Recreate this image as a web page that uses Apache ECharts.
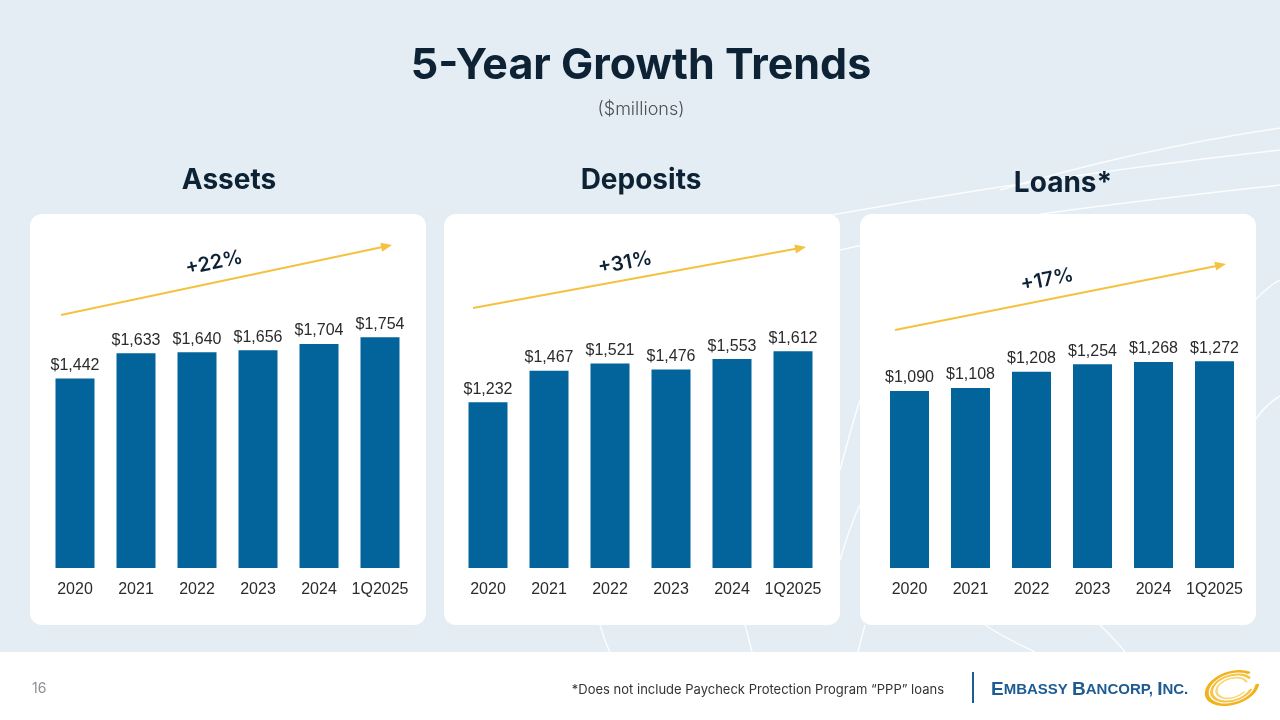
<!DOCTYPE html>
<html>
<head>
<meta charset="utf-8">
<title>5-Year Growth Trends</title>
<script src="https://cdn.jsdelivr.net/npm/echarts@6/dist/echarts.min.js"></script>
<style>
  html, body { margin: 0; padding: 0; background: #e4edf3; }
  #chart { width: 1280px; height: 720px; }
</style>
</head>
<body>
<div id="chart"></div>
<script>
// data ($millions)
var categories = ['2020', '2021', '2022', '2023', '2024', '1Q2025'];
var assets = [1442, 1633, 1640, 1656, 1704, 1754];
var deposits = [1232, 1467, 1521, 1476, 1553, 1612];
var loans = [1090, 1108, 1208, 1254, 1268, 1272];
var panelTitles = ['Assets', 'Deposits', 'Loans*'];
var growthLabels = ['+22%', '+31%', '+17%'];

var navy = '#0d2235';
var barColor = '#03639b';
var gold = '#f5c141';

// layout for the three panels
var panels = [
  { data: assets,   left: 44.5, top: 305, max: 2000, card: [30, 214],  titleX: 229,  titleY: 181,
    arrow: [[61, 315], [392, 245]], pct: [214, 263] },
  { data: deposits, left: 457.5, top: 299, max: 2000, card: [444, 214], titleX: 641,  titleY: 181,
    arrow: [[473, 308], [806, 247]], pct: [625, 263] },
  { data: loans,    left: 879, top: 308, max: 1600, card: [860, 214],  titleX: 1063, titleY: 184,
    arrow: [[895, 330], [1226, 264]], pct: [1047, 280] }
];

function money(v) {
  return '$' + v.toLocaleString('en-US');
}

var grids = [], xAxes = [], yAxes = [], series = [], graphics = [];

// background decoration
var curves = [
  [[700, 240], [900, 200], [1100, 170], [1280, 150]],
  [[840, 250], [1000, 215], [1150, 200], [1280, 185]],
  [[1000, 190], [1100, 160], [1200, 140], [1280, 128]],
  [[1255, 300], [1265, 290], [1272, 284], [1280, 280]],
  [[1255, 420], [1262, 410], [1270, 402], [1280, 396]],
  [[600, 625], [603, 635], [606, 645], [610, 652]],
  [[745, 625], [748, 635], [750, 645], [752, 652]],
  [[865, 625], [862, 635], [860, 645], [858, 652]],
  [[985, 625], [1000, 635], [1020, 645], [1035, 652]],
  [[1100, 625], [1110, 635], [1120, 645], [1125, 652]],
  [[840, 470], [848, 440], [855, 415], [860, 400]],
  [[840, 560], [846, 540], [852, 520], [860, 505]]
];
curves.forEach(function (c) {
  graphics.push({
    type: 'bezierCurve', z: -3,
    shape: { x1: c[0][0], y1: c[0][1], cpx1: c[1][0], cpy1: c[1][1], cpx2: c[2][0], cpy2: c[2][1], x2: c[3][0], y2: c[3][1] },
    style: { stroke: 'rgba(255,255,255,0.85)', lineWidth: 1.5, fill: null }
  });
});

// footer strip
graphics.push({ type: 'rect', z: -2, shape: { x: 0, y: 652, width: 1280, height: 68 }, style: { fill: '#ffffff' } });

// headline
graphics.push({
  type: 'text', z: 5, x: 641, y: 66,
  style: { text: '5-Year Growth Trends', font: '700 43px Inter', fill: navy, align: 'center', verticalAlign: 'middle' }
});
graphics.push({
  type: 'text', z: 5, x: 641, y: 110,
  style: { text: '($millions)', font: '300 18px Inter', fill: '#4a4f55', align: 'center', verticalAlign: 'middle' }
});

panels.forEach(function (p, i) {
  grids.push({ left: p.left, top: p.top, width: 366, bottom: 152 });
  xAxes.push({
    type: 'category', gridIndex: i, data: categories, z: 10,
    axisLine: { show: false }, axisTick: { show: false },
    axisLabel: { interval: 0, color: '#2b2b2b', fontSize: 16, fontFamily: 'Liberation Sans', margin: 14 }
  });
  yAxes.push({ type: 'value', gridIndex: i, min: 0, max: p.max, show: false, splitLine: { show: false } });
  series.push({
    type: 'bar', xAxisIndex: i, yAxisIndex: i, data: p.data, barWidth: 39, z: 10,
    itemStyle: { color: barColor },
    label: {
      show: true, position: 'top', distance: 5, color: '#2b2b2b', fontSize: 16, fontFamily: 'Liberation Sans',
      formatter: function (d) { return money(d.value); }
    }
  });

  // card
  graphics.push({
    type: 'rect', z: -1,
    shape: { x: p.card[0], y: p.card[1], width: 396, height: 411, r: 12 },
    style: { fill: '#ffffff' }
  });
  // panel title
  graphics.push({
    type: 'text', z: 5, x: p.titleX, y: p.titleY,
    style: { text: panelTitles[i], font: '700 28px Inter', fill: navy, align: 'center', verticalAlign: 'middle' }
  });
  // growth arrow
  var a = p.arrow[0], b = p.arrow[1];
  var ang = Math.atan2(b[1] - a[1], b[0] - a[0]);
  graphics.push({
    type: 'line', z: 5,
    shape: { x1: a[0], y1: a[1], x2: b[0] - 6 * Math.cos(ang), y2: b[1] - 6 * Math.sin(ang) },
    style: { stroke: gold, lineWidth: 2 }
  });
  var hl = 11, hw = 4.5;
  var bx = b[0] - hl * Math.cos(ang), by = b[1] - hl * Math.sin(ang);
  graphics.push({
    type: 'polygon', z: 5,
    shape: { points: [
      [b[0], b[1]],
      [bx + hw * Math.sin(ang), by - hw * Math.cos(ang)],
      [bx - hw * Math.sin(ang), by + hw * Math.cos(ang)]
    ] },
    style: { fill: gold }
  });
  graphics.push({
    type: 'text', z: 5, x: p.pct[0], y: p.pct[1], rotation: -ang,
    style: { text: growthLabels[i], font: '600 20px Inter', fill: navy, align: 'center', verticalAlign: 'middle' }
  });
});

// footer text
graphics.push({
  type: 'text', z: 5, x: 32, y: 689,
  style: { text: '16', font: '14px Inter', fill: '#8a8f94', align: 'left', verticalAlign: 'middle' }
});
graphics.push({
  type: 'text', z: 5, x: 944, y: 690,
  style: { text: '*Does not include Paycheck Protection Program \u201cPPP\u201d loans', font: '13px Inter', fill: '#333333', align: 'right', verticalAlign: 'middle' }
});
graphics.push({
  type: 'line', z: 5, shape: { x1: 973, y1: 672, x2: 973, y2: 703 },
  style: { stroke: '#1d5c93', lineWidth: 2 }
});
graphics.push({
  type: 'text', z: 5, x: 991, y: 690,
  style: {
    text: '{b|E}{s|MBASSY }{b|B}{s|ANCORP, }{b|I}{s|NC.}',
    align: 'left', verticalAlign: 'middle',
    rich: {
      b: { font: '700 19px "Liberation Sans"', fill: '#1d5c93' },
      s: { font: '700 15px "Liberation Sans"', fill: '#1d5c93' }
    }
  }
});
// logo swoosh: partial gold rings squashed into ellipses
[[26, 4, '#f2b21b', 0.3, 5.6], [21, 3, '#f6c344', 0.6, 5.9], [16, 2.5, '#f9d67a', 0.9, 6.1]].forEach(function (e) {
  graphics.push({
    type: 'arc', z: 5, x: 1232, y: 688, scaleY: 0.6, rotation: 0.3,
    shape: { cx: 0, cy: 0, r: e[0], startAngle: e[3], endAngle: e[4] },
    style: { fill: null, stroke: e[2], lineWidth: e[1], lineCap: 'round' }
  });
});

var chart = echarts.init(document.getElementById('chart'));
chart.setOption({
  backgroundColor: '#e4edf3',
  animation: false,
  grid: grids,
  xAxis: xAxes,
  yAxis: yAxes,
  series: series,
  graphic: { elements: graphics }
});
</script>
</body>
</html>
